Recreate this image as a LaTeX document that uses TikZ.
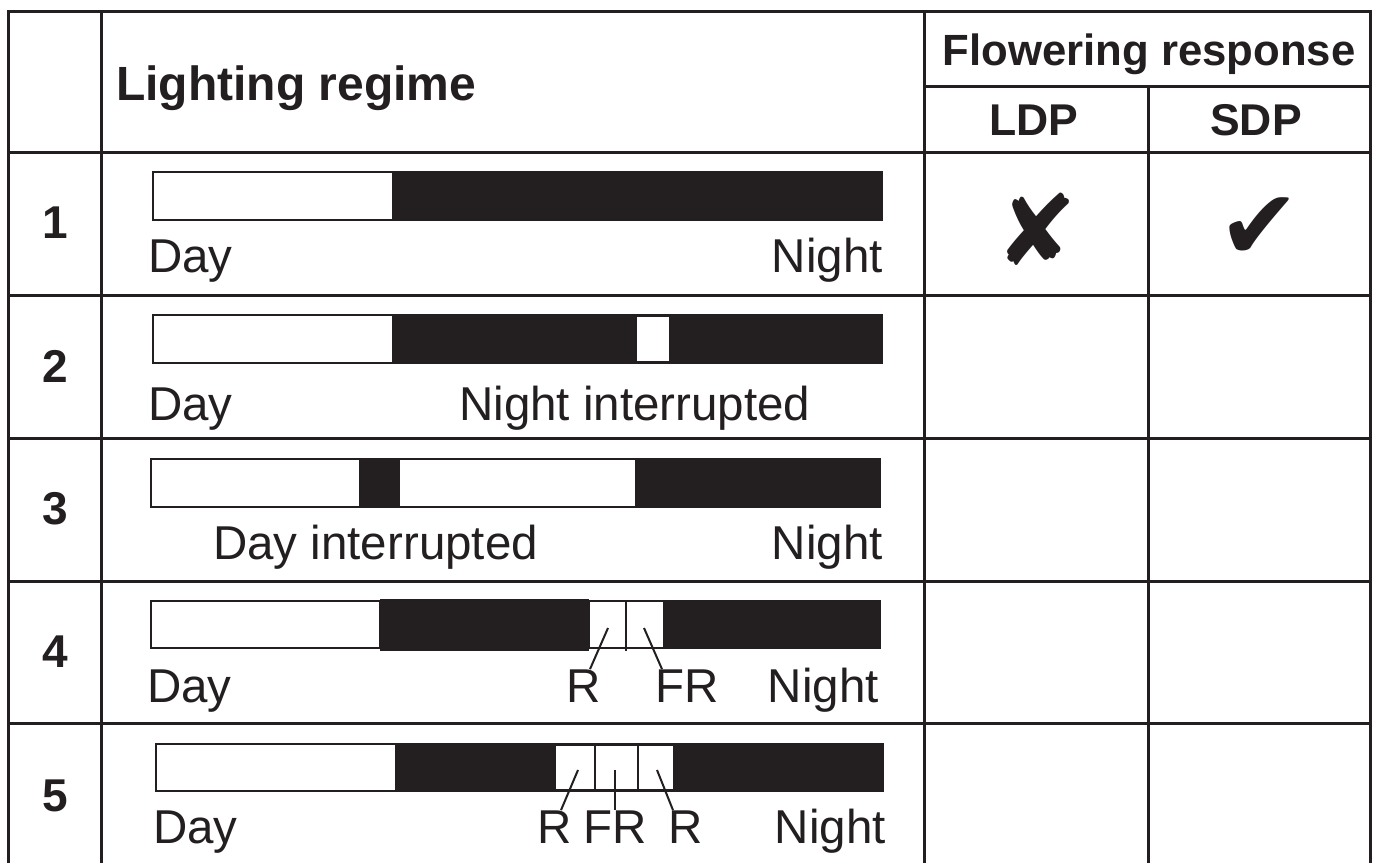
\documentclass[tikz,border=0pt]{standalone}
\usepackage{fontspec}
\setmainfont{Liberation Sans}
\newfontfamily\dingfont{DejaVu Sans}
\definecolor{ink}{RGB}{35,31,32}
\tikzset{
  gridline/.style={line width=3pt, draw=ink, line cap=rect},
  lbl/.style={font=\fontsize{47.5}{50}\selectfont, text=ink, inner sep=0pt},
  hdr/.style={font=\fontsize{46}{50}\selectfont\bfseries, text=ink, inner sep=0pt},
  glyphmark/.style={font=\dingfont\fontsize{98}{100}\selectfont, text=ink, inner sep=0pt},
  whitebar/.style={fill=white, draw=ink, line width=2.5pt},
  blackbar/.style={fill=ink},
  lead/.style={draw=ink, line width=2pt}
}
\begin{document}
\begin{tikzpicture}[x=1pt,y=-1pt]
\useasboundingbox[fill=white] (0,0) rectangle (1376,863);
% grid
\draw[gridline] (8,11) -- (1370,11);
\draw[gridline] (924,86) -- (1370,86);
\foreach \yy in {152,295,438,581,723} \draw[gridline] (8,\yy) -- (1370,\yy);
\draw[line width=3pt, draw=ink] (8,11) -- (8,863);
\draw[line width=3pt, draw=ink] (101,11) -- (101,863);
\draw[line width=3pt, draw=ink] (924,11) -- (924,863);
\draw[line width=3pt, draw=ink] (1148,86) -- (1148,863);
\draw[line width=3pt, draw=ink] (1370,11) -- (1370,863);
% headers
\node[hdr, font=\fontsize{48}{50}\selectfont\bfseries, anchor=base west] (hlight) at (116,100) {Lighting regime};
\node[hdr, font=\fontsize{43.7}{50}\selectfont\bfseries, anchor=base] (hflow) at (1149,65) {Flowering response};
\node[hdr, font=\fontsize{44.5}{50}\selectfont\bfseries, anchor=base] (hldp) at (1034,135) {LDP};
\node[hdr, font=\fontsize{44.5}{50}\selectfont\bfseries, anchor=base] (hsdp) at (1256,135) {SDP};
% row numbers
\node[hdr] (n1) at (55,223) {1};
\node[hdr] (n2) at (55,366) {2};
\node[hdr] (n3) at (55,509) {3};
\node[hdr] (n4) at (55,652) {4};
\node[hdr] (n5) at (55,796) {5};
% marks
\node[glyphmark] (cross) at (1037,229) {✘};
\node[glyphmark] (tick) at (1260,229) {✔};
% row 1
\draw[whitebar] (153,172) rectangle (393,220);
\fill[blackbar] (393,171) rectangle (883,221);
\node[lbl, anchor=base west] (d1) at (148,272) {Day};
\node[lbl, anchor=base east] (e1) at (883,272) {Night};
% row 2
\draw[whitebar] (153,315) rectangle (393,363);
\fill[blackbar] (393,314) rectangle (883,364);
\fill[white] (637,317) rectangle (669,361);
\node[lbl, anchor=base west] (d2) at (148,420) {Day};
\node[lbl, anchor=base west] (e2) at (459,420) {Night interrupted};
% row 3
\draw[whitebar] (151,459) rectangle (636,507);
\fill[blackbar] (359,458) rectangle (400,508);
\fill[blackbar] (636,458) rectangle (881,508);
\node[lbl, anchor=base west] (d3) at (213,559) {Day interrupted};
\node[lbl, anchor=base east] (e3) at (883,559) {Night};
% row 4
\draw[whitebar] (151,601) rectangle (380,648);
\fill[blackbar] (380,599) rectangle (589,651);
\draw[whitebar, line width=2pt] (589,601) rectangle (664,648);
\fill[blackbar] (664,600) rectangle (881,649);
\draw[lead] (626,601) -- (626,651);
\node[lbl, anchor=base west] (d4) at (147,702) {Day};
\node[lbl, anchor=base west] (r4) at (566,702) {R};
\node[lbl, anchor=base west] (fr4) at (655,702) {FR};
\node[lbl, anchor=base east] (e4) at (879,702) {Night};
\coordinate (r4in) at (608,628);
\coordinate (fr4in) at (644,628);
\draw[lead] (r4in) -- (r4.north -| 590,0);
\draw[lead] (fr4in) -- (fr4.north -| 662,0);
% row 5
\draw[whitebar] (156,744) rectangle (396,791);
\fill[blackbar] (396,743) rectangle (884,792);
\draw[whitebar, line width=2pt] (555,745) rectangle (674,790);
\draw[lead] (595,745) -- (595,790);
\draw[lead] (638,745) -- (638,790);
\node[lbl, anchor=base west] (d5) at (153,843) {Day};
\node[lbl, anchor=base west] (r5a) at (537,843) {R};
\node[lbl, anchor=base west] (fr5) at (583,843) {FR};
\node[lbl, anchor=base west] (r5b) at (668,843) {R};
\node[lbl, anchor=base east] (e5) at (886,843) {Night};
\coordinate (r5ain) at (578,770);
\coordinate (fr5in) at (615,770);
\coordinate (r5bin) at (657,770);
\draw[lead] (r5ain) -- (r5a.north -| 561,0);
\draw[lead] (fr5in) -- (fr5.north -| 615,0);
\draw[lead] (r5bin) -- (r5b.north -| 673,0);
\end{tikzpicture}
\end{document}
